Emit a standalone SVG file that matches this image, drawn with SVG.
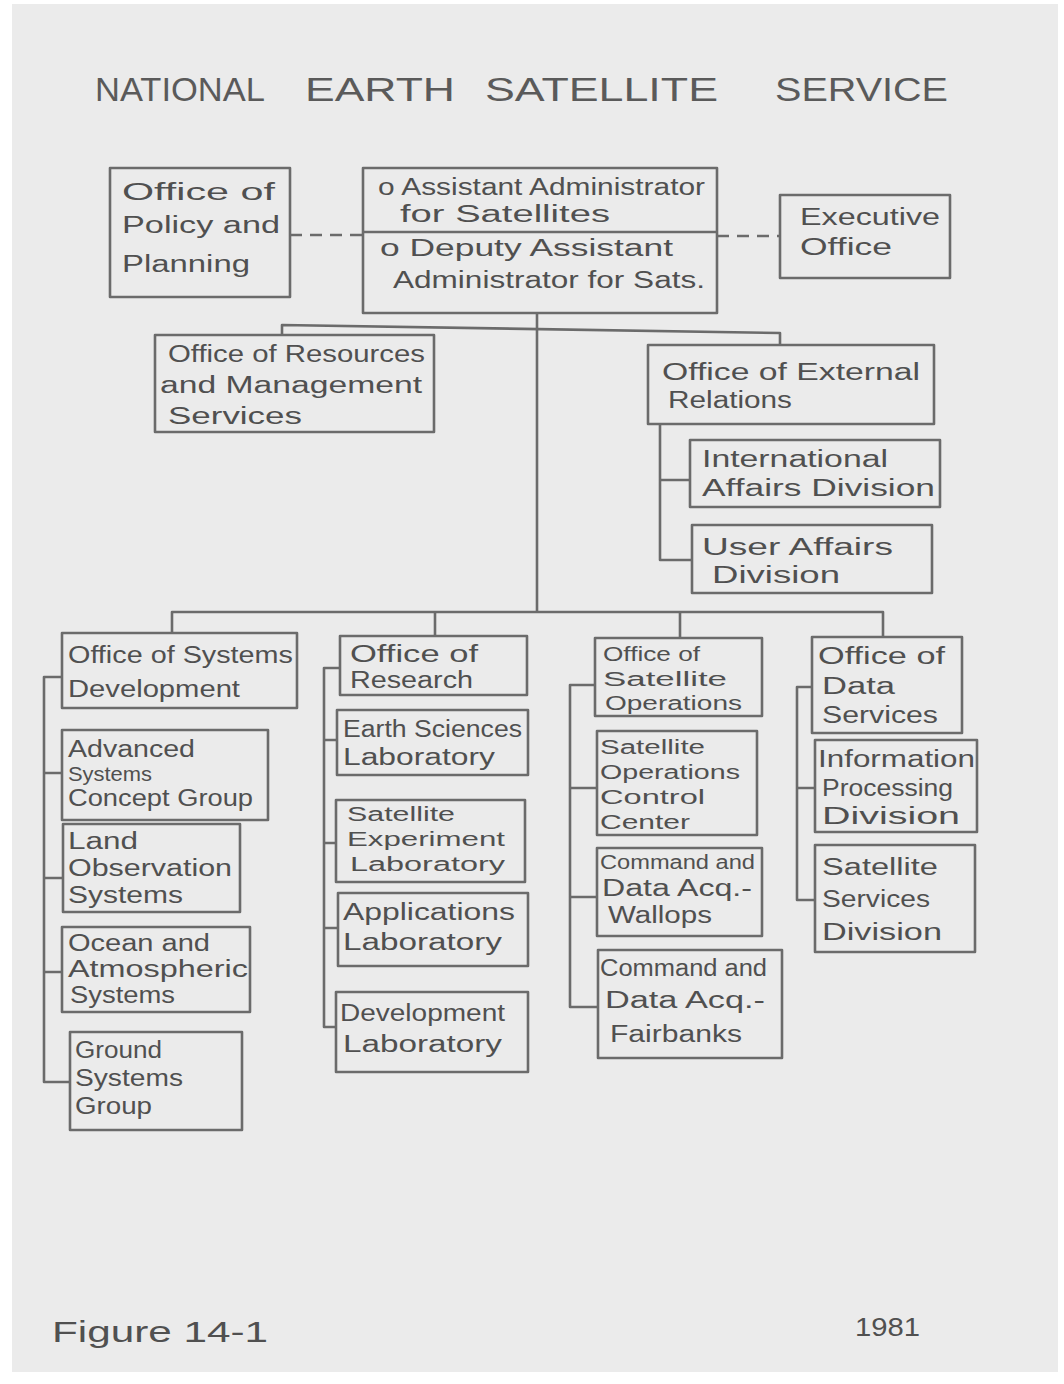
<svg xmlns="http://www.w3.org/2000/svg" width="1064" height="1384" viewBox="0 0 1064 1384">
<style>
.box{fill:none;stroke:#6b6b6b;stroke-width:2.6;stroke-linejoin:round}
.t{font-family:"Liberation Sans","DejaVu Sans",Arial,sans-serif;font-size:23px;fill:#505050}
.s{font-size:20px}
.ti{font-family:"Liberation Sans","DejaVu Sans",Arial,sans-serif;font-size:34px;fill:#5a5a5a}
.ln{fill:none;stroke:#6b6b6b;stroke-width:2.6;stroke-linejoin:round}
.dash{fill:none;stroke:#6b6b6b;stroke-width:2.6;stroke-dasharray:12 8}
</style>
<rect x="0" y="0" width="1064" height="1384" fill="#ffffff"/>
<rect x="12" y="4" width="1046" height="1368" fill="#ebebeb"/>

<g id="title">
<text class="ti" x="95" y="101" textLength="170" lengthAdjust="spacingAndGlyphs">NATIONAL</text>
<text class="ti" x="305" y="101" textLength="150" lengthAdjust="spacingAndGlyphs">EARTH</text>
<text class="ti" x="485" y="101" textLength="233" lengthAdjust="spacingAndGlyphs">SATELLITE</text>
<text class="ti" x="775" y="101" textLength="173" lengthAdjust="spacingAndGlyphs">SERVICE</text>
</g>

<g id="connectors">
<path class="dash" d="M290 235 H363"/>
<path class="dash" d="M717 236 H780"/>
<path class="ln" d="M537 313 V612"/>
<path class="ln" d="M282 335 V325 L780 333 V345"/>
<path class="ln" d="M660 424 V560 H692 M660 480 H690"/>
<path class="ln" d="M172 633 V612 H883 V637 M435 612 V636 M680 612 V638"/>
<path class="ln" d="M62 677 H44 V1082 H70 M44 773 H62 M44 878 H63 M44 972 H62"/>
<path class="ln" d="M340 668 H324 V1027 H336 M324 740 H337 M324 843 H336 M324 928 H338"/>
<path class="ln" d="M595 685 H570 V1007 H598 M570 788 H597 M570 897 H597"/>
<path class="ln" d="M812 687 H797 V900 H815 M797 788 H815"/>
</g>

<g id="policy">
<rect class="box" x="110" y="168" width="180" height="129"/>
<text class="t" x="122" y="200" textLength="153" lengthAdjust="spacingAndGlyphs">Office of</text>
<text class="t" x="122" y="233" textLength="158" lengthAdjust="spacingAndGlyphs">Policy and</text>
<text class="t" x="122" y="272" textLength="128" lengthAdjust="spacingAndGlyphs">Planning</text>
</g>

<g id="administrator">
<rect class="box" x="363" y="168" width="354" height="145"/>
<path class="ln" d="M363 232 H717"/>
<text class="t" x="378" y="195" textLength="327" lengthAdjust="spacingAndGlyphs">o Assistant Administrator</text>
<text class="t" x="400" y="222" textLength="210" lengthAdjust="spacingAndGlyphs">for Satellites</text>
<text class="t" x="380" y="256" textLength="293" lengthAdjust="spacingAndGlyphs">o Deputy Assistant</text>
<text class="t" x="393" y="288" textLength="312" lengthAdjust="spacingAndGlyphs">Administrator for Sats.</text>
</g>

<g id="executive">
<rect class="box" x="780" y="195" width="170" height="83"/>
<text class="t" x="800" y="225" textLength="140" lengthAdjust="spacingAndGlyphs">Executive</text>
<text class="t" x="800" y="255" textLength="92" lengthAdjust="spacingAndGlyphs">Office</text>
</g>

<g id="resources">
<rect class="box" x="155" y="335" width="279" height="97"/>
<text class="t" x="168" y="362" textLength="257" lengthAdjust="spacingAndGlyphs">Office of Resources</text>
<text class="t" x="160" y="393" textLength="262" lengthAdjust="spacingAndGlyphs">and Management</text>
<text class="t" x="168" y="424" textLength="134" lengthAdjust="spacingAndGlyphs">Services</text>
</g>

<g id="external">
<rect class="box" x="648" y="345" width="286" height="79"/>
<text class="t" x="662" y="380" textLength="258" lengthAdjust="spacingAndGlyphs">Office of External</text>
<text class="t" x="668" y="408" textLength="124" lengthAdjust="spacingAndGlyphs">Relations</text>
</g>

<g id="international">
<rect class="box" x="690" y="440" width="250" height="67"/>
<text class="t" x="702" y="467" textLength="186" lengthAdjust="spacingAndGlyphs">International</text>
<text class="t" x="702" y="496" textLength="233" lengthAdjust="spacingAndGlyphs">Affairs Division</text>
</g>

<g id="user">
<rect class="box" x="692" y="525" width="240" height="68"/>
<text class="t" x="702" y="555" textLength="191" lengthAdjust="spacingAndGlyphs">User Affairs</text>
<text class="t" x="712" y="583" textLength="128" lengthAdjust="spacingAndGlyphs">Division</text>
</g>

<g id="sysdev">
<rect class="box" x="62" y="633" width="235" height="75"/>
<text class="t" x="68" y="663" textLength="225" lengthAdjust="spacingAndGlyphs">Office of Systems</text>
<text class="t" x="68" y="697" textLength="172" lengthAdjust="spacingAndGlyphs">Development</text>
</g>

<g id="advanced">
<rect class="box" x="62" y="730" width="206" height="90"/>
<text class="t" x="68" y="757" textLength="127" lengthAdjust="spacingAndGlyphs">Advanced</text>
<text class="t s" x="68" y="781" textLength="84" lengthAdjust="spacingAndGlyphs">Systems</text>
<text class="t" x="68" y="806" textLength="185" lengthAdjust="spacingAndGlyphs">Concept Group</text>
</g>

<g id="land">
<rect class="box" x="63" y="824" width="177" height="88"/>
<text class="t" x="68" y="849" textLength="70" lengthAdjust="spacingAndGlyphs">Land</text>
<text class="t" x="68" y="876" textLength="164" lengthAdjust="spacingAndGlyphs">Observation</text>
<text class="t" x="68" y="903" textLength="115" lengthAdjust="spacingAndGlyphs">Systems</text>
</g>

<g id="ocean">
<rect class="box" x="62" y="927" width="188" height="85"/>
<text class="t" x="68" y="951" textLength="142" lengthAdjust="spacingAndGlyphs">Ocean and</text>
<text class="t" x="68" y="977" textLength="180" lengthAdjust="spacingAndGlyphs">Atmospheric</text>
<text class="t" x="70" y="1003" textLength="105" lengthAdjust="spacingAndGlyphs">Systems</text>
</g>

<g id="ground">
<rect class="box" x="70" y="1032" width="172" height="98"/>
<text class="t" x="75" y="1058" textLength="87" lengthAdjust="spacingAndGlyphs">Ground</text>
<text class="t" x="75" y="1086" textLength="108" lengthAdjust="spacingAndGlyphs">Systems</text>
<text class="t" x="75" y="1114" textLength="77" lengthAdjust="spacingAndGlyphs">Group</text>
</g>

<g id="research">
<rect class="box" x="340" y="636" width="187" height="59"/>
<text class="t" x="350" y="662" textLength="128" lengthAdjust="spacingAndGlyphs">Office of</text>
<text class="t" x="350" y="688" textLength="123" lengthAdjust="spacingAndGlyphs">Research</text>
</g>

<g id="earth">
<rect class="box" x="337" y="710" width="191" height="65"/>
<text class="t" x="343" y="737" textLength="179" lengthAdjust="spacingAndGlyphs">Earth Sciences</text>
<text class="t" x="343" y="765" textLength="152" lengthAdjust="spacingAndGlyphs">Laboratory</text>
</g>

<g id="satexp">
<rect class="box" x="336" y="800" width="189" height="82"/>
<text class="t s" x="347" y="821" textLength="108" lengthAdjust="spacingAndGlyphs">Satellite</text>
<text class="t s" x="347" y="846" textLength="158" lengthAdjust="spacingAndGlyphs">Experiment</text>
<text class="t s" x="350" y="871" textLength="155" lengthAdjust="spacingAndGlyphs">Laboratory</text>
</g>

<g id="applications">
<rect class="box" x="338" y="893" width="190" height="73"/>
<text class="t" x="343" y="920" textLength="172" lengthAdjust="spacingAndGlyphs">Applications</text>
<text class="t" x="343" y="950" textLength="159" lengthAdjust="spacingAndGlyphs">Laboratory</text>
</g>

<g id="devlab">
<rect class="box" x="336" y="992" width="192" height="80"/>
<text class="t" x="340" y="1021" textLength="165" lengthAdjust="spacingAndGlyphs">Development</text>
<text class="t" x="343" y="1052" textLength="159" lengthAdjust="spacingAndGlyphs">Laboratory</text>
</g>

<g id="satops">
<rect class="box" x="595" y="638" width="167" height="78"/>
<text class="t s" x="603" y="661" textLength="97" lengthAdjust="spacingAndGlyphs">Office of</text>
<text class="t s" x="603" y="686" textLength="124" lengthAdjust="spacingAndGlyphs">Satellite</text>
<text class="t s" x="605" y="710" textLength="137" lengthAdjust="spacingAndGlyphs">Operations</text>
</g>

<g id="socc">
<rect class="box" x="597" y="731" width="160" height="104"/>
<text class="t s" x="600" y="754" textLength="105" lengthAdjust="spacingAndGlyphs">Satellite</text>
<text class="t s" x="600" y="779" textLength="140" lengthAdjust="spacingAndGlyphs">Operations</text>
<text class="t s" x="600" y="804" textLength="105" lengthAdjust="spacingAndGlyphs">Control</text>
<text class="t s" x="600" y="829" textLength="90" lengthAdjust="spacingAndGlyphs">Center</text>
</g>

<g id="wallops">
<rect class="box" x="597" y="848" width="165" height="88"/>
<text class="t s" x="600" y="869" textLength="155" lengthAdjust="spacingAndGlyphs">Command and</text>
<text class="t" x="602" y="896" textLength="150" lengthAdjust="spacingAndGlyphs">Data Acq.-</text>
<text class="t" x="608" y="923" textLength="104" lengthAdjust="spacingAndGlyphs">Wallops</text>
</g>

<g id="fairbanks">
<rect class="box" x="598" y="950" width="184" height="108"/>
<text class="t" x="600" y="976" textLength="167" lengthAdjust="spacingAndGlyphs">Command and</text>
<text class="t" x="605" y="1008" textLength="160" lengthAdjust="spacingAndGlyphs">Data Acq.-</text>
<text class="t" x="610" y="1042" textLength="132" lengthAdjust="spacingAndGlyphs">Fairbanks</text>
</g>

<g id="dataservices">
<rect class="box" x="812" y="637" width="150" height="96"/>
<text class="t" x="818" y="664" textLength="127" lengthAdjust="spacingAndGlyphs">Office of</text>
<text class="t" x="822" y="694" textLength="73" lengthAdjust="spacingAndGlyphs">Data</text>
<text class="t" x="822" y="723" textLength="116" lengthAdjust="spacingAndGlyphs">Services</text>
</g>

<g id="infoproc">
<rect class="box" x="815" y="740" width="162" height="92"/>
<text class="t" x="818" y="767" textLength="157" lengthAdjust="spacingAndGlyphs">Information</text>
<text class="t" x="822" y="796" textLength="131" lengthAdjust="spacingAndGlyphs">Processing</text>
<text class="t" x="822" y="824" textLength="138" lengthAdjust="spacingAndGlyphs">Division</text>
</g>

<g id="satservices">
<rect class="box" x="815" y="845" width="160" height="107"/>
<text class="t" x="822" y="875" textLength="116" lengthAdjust="spacingAndGlyphs">Satellite</text>
<text class="t" x="822" y="907" textLength="108" lengthAdjust="spacingAndGlyphs">Services</text>
<text class="t" x="822" y="940" textLength="120" lengthAdjust="spacingAndGlyphs">Division</text>
</g>

<g id="footer">
<text class="t" x="52" y="1342" style="font-size:30px" textLength="216" lengthAdjust="spacingAndGlyphs">Figure 14-1</text>
<text class="t" x="855" y="1336" style="font-size:25px" textLength="65" lengthAdjust="spacingAndGlyphs">1981</text>
</g>
</svg>
